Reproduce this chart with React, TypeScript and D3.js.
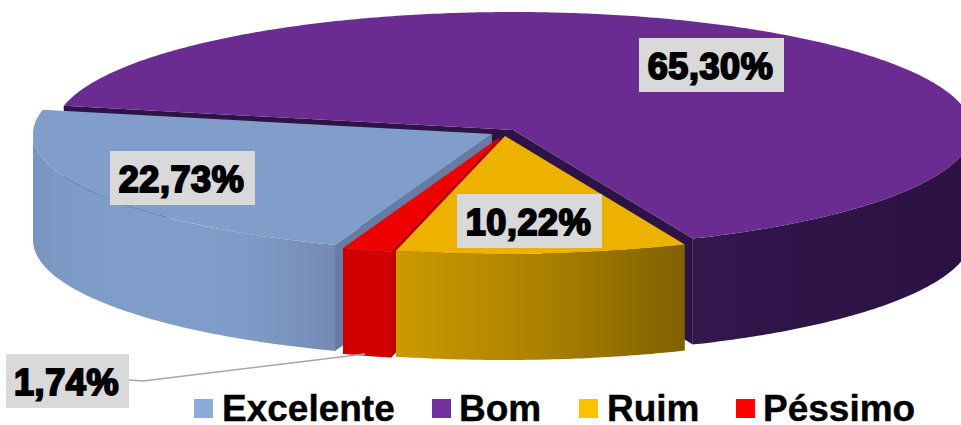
import React from "react";
import * as d3 from "d3";

const categories = ["Excelente", "Bom", "Ruim", "Péssimo"];
const shares = [22.73, 65.3, 10.22, 1.74];
const valueLabels = ["22,73%", "65,30%", "10,22%", "1,74%"];

const W = 961;
const H = 425;
const RX = 459;
const RY = 118;
const DEPTH = 106;
const START = (200 * Math.PI) / 180;

type Side = "start" | "end";
const sliceLayout: Record<string, any> = {
  Bom: { apex: [513, 130], walls: ["start", "end"] as Side[], top: "#6a2c90", cut: "#2d1346", outer: "url(#gBom)" },
  Excelente: { apex: [492, 134], walls: ["start"] as Side[], top: "#819ecb", cut: "#667ca3", outer: "url(#gExc)" },
  "Péssimo": { apex: [500, 137], walls: ["start"] as Side[], top: "#ee0000", cut: "#bb0000", outer: "#d00000" },
  Ruim: { apex: [505, 136], walls: [] as Side[], top: "#edb100", cut: "#000", outer: "url(#gRuim)" },
};
const drawOrder = ["Bom", "Excelente", "Péssimo", "Ruim"];

const labelBoxes: Record<string, [number, number, number, number]> = {
  Excelente: [110, 151, 145, 54],
  Bom: [639, 38, 145, 54],
  Ruim: [457, 194, 145, 54],
  "Péssimo": [6, 354, 123, 54],
};

const legendColors = ["#8eaadb", "#7030a0", "#ffc000", "#ff0000"];
const legendSwatchX = [194, 432, 579, 736];
const legendTextX = [222, 459, 607, 763];

const pieGen = d3
  .pie<number>()
  .sort(null)
  .startAngle(START)
  .endAngle(START + 2 * Math.PI);
const arcs = pieGen(shares);

const FONT = "'Liberation Sans', Arial, sans-serif";
const line = d3.line<[number, number]>();

function pt(apex: number[], a: number, dy = 0): [number, number] {
  return [apex[0] + RX * Math.sin(a), apex[1] - RY * Math.cos(a) + dy];
}
function sample(a0: number, a1: number): number[] {
  const n = Math.max(2, Math.ceil(Math.abs(a1 - a0) / 0.01));
  return d3.range(n + 1).map((i) => a0 + ((a1 - a0) * i) / n);
}
function topPath(apex: number[], a0: number, a1: number) {
  const pts = sample(a0, a1).map((a) => pt(apex, a));
  return line([[apex[0], apex[1]], ...pts]) + "Z";
}
function cutPath(apex: number[], a: number) {
  return (
    line([
      [apex[0], apex[1]],
      pt(apex, a),
      pt(apex, a, DEPTH),
      [apex[0], apex[1] + DEPTH],
    ]) + "Z"
  );
}
// the part of the rim that faces the viewer: clock angles between 90° and 270°
function outerPath(apex: number[], a0: number, a1: number) {
  const T = 2 * Math.PI;
  const lo = Math.PI / 2;
  const hi = (3 * Math.PI) / 2;
  let s = a0;
  let e = a1;
  const k = Math.floor(s / T);
  s -= k * T;
  e -= k * T;
  if (s >= hi) {
    s -= T;
    e -= T;
  }
  if (e < lo) {
    s += T;
    e += T;
  }
  const from = Math.max(s, lo);
  const to = Math.min(e, hi);
  if (to <= from) return null;
  const a = sample(from, to);
  const upper = a.map((v) => pt(apex, v));
  const lower = a.map((v) => pt(apex, v, DEPTH)).reverse();
  return line([...upper, ...lower]) + "Z";
}

export default function App() {
  return (
    <svg
      width={W}
      height={H}
      viewBox={`0 0 ${W} ${H}`}
      style={{ position: "absolute", left: 0, top: 0, display: "block", background: "#fff" }}
    >
      <defs>
        <linearGradient id="gBom" gradientUnits="userSpaceOnUse" x1="693" x2="961" y1="0" y2="0">
          <stop offset="0" stopColor="#34194f" />
          <stop offset="0.25" stopColor="#2f1549" />
          <stop offset="1" stopColor="#2c1244" />
        </linearGradient>
        <linearGradient id="gExc" gradientUnits="userSpaceOnUse" x1="33" x2="335" y1="0" y2="0">
          <stop offset="0" stopColor="#7894c0" />
          <stop offset="0.15" stopColor="#7f9bc8" />
          <stop offset="0.4" stopColor="#819ecb" />
          <stop offset="0.7" stopColor="#7f9bc8" />
          <stop offset="1" stopColor="#748ab5" />
        </linearGradient>
        <linearGradient id="gRuim" gradientUnits="userSpaceOnUse" x1="396" x2="686" y1="0" y2="0">
          <stop offset="0" stopColor="#cc9a00" />
          <stop offset="0.5" stopColor="#ab8100" />
          <stop offset="1" stopColor="#806100" />
        </linearGradient>
      </defs>

      {drawOrder.map((name) => {
        const i = categories.indexOf(name);
        const d = arcs[i];
        const L = sliceLayout[name];
        const outer = outerPath(L.apex, d.startAngle, d.endAngle);
        return (
          <g key={name}>
            {L.walls.map((w: Side) => (
              <path key={w} d={cutPath(L.apex, w === "start" ? d.startAngle : d.endAngle) as string} fill={L.cut} />
            ))}
            {outer && <path d={outer} fill={L.outer} />}
            <path d={topPath(L.apex, d.startAngle, d.endAngle)} fill={L.top} />
          </g>
        );
      })}

      <polyline points="129,380 143,381 365,354" fill="none" stroke="#a6a6a6" strokeWidth={1.5} />

      {categories.map((name, i) => {
        const [x, y, w, h] = labelBoxes[name];
        return (
          <g key={name}>
            <rect x={x} y={y} width={w} height={h} fill="#d9d9d9" />
            <text
              x={x + w / 2 - 1}
              y={y + 40.5}
              textAnchor="middle"
              fontFamily={FONT}
              fontWeight="bold"
              fontSize={36}
              letterSpacing={0.6}
              fill="#000"
              stroke="#000"
              strokeWidth={2}
            >
              {valueLabels[i]}
            </text>
          </g>
        );
      })}

      {categories.map((name, i) => (
        <g key={name}>
          <rect x={legendSwatchX[i]} y={399} width={19} height={19} fill={legendColors[i]} />
          <text
            x={legendTextX[i]}
            y={421}
            fontFamily={FONT}
            fontWeight="bold"
            fontSize={37}
            fill="#000"
            stroke="#000"
            strokeWidth={0.4}
          >
            {name}
          </text>
        </g>
      ))}
    </svg>
  );
}
